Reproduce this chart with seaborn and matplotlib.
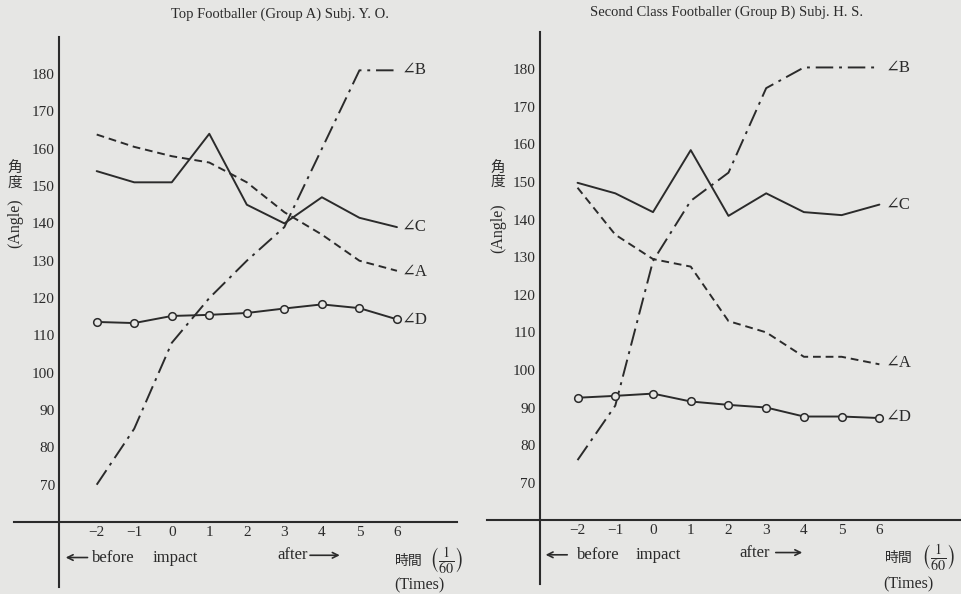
import numpy as np
import pandas as pd
import matplotlib
matplotlib.use("Agg")
import matplotlib.pyplot as plt
import seaborn as sns

# time frames (1/60 s), relative to impact
times = [-2, -1, 0, 1, 2, 3, 4, 5, 6]

# Group A (top footballer, subj. Y. O.)
a_angle_A = [163.8, 160.5, 158, 156.3, 151, 143, 137, 130, 127.3]
a_angle_B = [70, 85, 108, 120, 130, 139, 160, 181, 181]
a_angle_C = [154, 151, 151, 164, 145, 140, 147, 141.5, 139]
a_angle_D = [113.6, 113.3, 115.2, 115.5, 116, 117.2, 118.3, 117.3, 114.3]

# Group B (second class footballer, subj. H. S.)
b_angle_A = [148.5, 136, 129.5, 127.5, 113, 110, 103.5, 103.5, 101.5]
b_angle_B = [76, 90.5, 129, 145, 152.5, 175, 180.5, 180.5, 180.5]
b_angle_C = [149.8, 147, 142, 158.5, 141, 147, 142, 141.2, 144]
b_angle_D = [92.6, 93.1, 93.7, 91.6, 90.7, 90, 87.6, 87.6, 87.2]

y_ticks = [70, 80, 90, 100, 110, 120, 130, 140, 150, 160, 170, 180]
titles = ["Top Footballer (Group A) Subj. Y. O.",
          "Second Class Footballer (Group B) Subj. H. S."]

bg = "#e6e6e4"
ink = "#2b2b2b"

sns.set_style("white")
plt.rcParams["font.family"] = ["Liberation Serif", "DejaVu Serif", "Noto Sans CJK JP"]
plt.rcParams["mathtext.fontset"] = "stix"
plt.rcParams["text.color"] = ink
plt.rcParams["xtick.color"] = ink
plt.rcParams["ytick.color"] = ink

df_a = pd.DataFrame({"t": times, "A": a_angle_A, "B": a_angle_B, "C": a_angle_C, "D": a_angle_D})
df_b = pd.DataFrame({"t": times, "A": b_angle_A, "B": b_angle_B, "C": b_angle_C, "D": b_angle_D})

fig = plt.figure(figsize=(9.62, 5.94), dpi=100, facecolor=bg)

styles = {
    "A": dict(linestyle=(0, (4, 2.5))),
    "B": dict(linestyle=(0, (9, 3, 1.5, 3))),
    "C": dict(linestyle="-"),
    "D": dict(linestyle="-", marker="o", markersize=5.5, markerfacecolor=bg,
              markeredgecolor=ink, markeredgewidth=1.1),
}

panels = [
    dict(df=df_a, rect=[13/962, 4/594, 447/962, 560/594], xlim=(-4.23, 7.68), ylim=(41.8, 191.8),
         xbounds=(-4.2, 7.6), ybounds=(42.5, 190),
         labels={"B": 181, "C": 139, "A": 127, "D": 114}, lab_x=6.14,
         before=(-2.9, -2.17, -2.12), impact=0.09, after=(2.81, 3.61, 4.55), ytxt=50.5,
         jikan=(5.96, 7.32), times_x=6.6, ylab=(-4.17, 152.9, 140)),
    dict(df=df_b, rect=[487/962, 2/594, 475/962, 564/594], xlim=(-4.4, 8.19), ylim=(40.9, 191),
         xbounds=(-4.4, 8.19), ybounds=(43, 190),
         labels={"B": 180.3, "C": 144, "A": 101.9, "D": 87.5}, lab_x=6.17,
         before=(-2.92, -2.2, -2.02), impact=0.13, after=(2.28, 3.18, 4.03), ytxt=50.8,
         jikan=(6.15, 7.56), times_x=6.76, ylab=(-4.11, 151.9, 137.8)),
]

for i, p in enumerate(panels):
    ax = fig.add_axes(p["rect"])
    ax.set_facecolor("none")
    for key in ["A", "B", "C", "D"]:
        sns.lineplot(data=p["df"], x="t", y=key, ax=ax, color=ink, linewidth=1.4, **styles[key])
    ax.set_xlim(*p["xlim"])
    ax.set_ylim(*p["ylim"])
    ax.spines["top"].set_visible(False)
    ax.spines["right"].set_visible(False)
    ax.spines["left"].set_position(("data", -3))
    ax.spines["bottom"].set_position(("data", 60))
    ax.spines["left"].set_bounds(*p["ybounds"])
    ax.spines["bottom"].set_bounds(*p["xbounds"])
    for s in ["left", "bottom"]:
        ax.spines[s].set_color(ink)
        ax.spines[s].set_linewidth(1.5)
    ax.set_xticks(times)
    ax.set_xticklabels([str(t).replace("-", "\u2212") for t in times])
    ax.set_yticks(y_ticks)
    ax.tick_params(axis="both", direction="in", length=6, width=1.4, labelsize=11, pad=3)
    ax.set_xlabel("")
    ax.set_ylabel("")

    for key, yv in p["labels"].items():
        ax.text(p["lab_x"], yv, "\u2220" + key, fontsize=12, va="center", ha="left", color=ink)

    yt = p["ytxt"]
    b_head, b_tail, b_txt = p["before"]
    ax.annotate("", xy=(b_head, yt), xytext=(b_tail, yt),
                arrowprops=dict(arrowstyle="->", color=ink, lw=1.2), annotation_clip=False)
    ax.text(b_txt, yt, "before", fontsize=12, va="center", ha="left")
    ax.text(p["impact"], yt, "impact", fontsize=12, va="center", ha="center")
    a_txt, a_tail, a_head = p["after"]
    ax.text(a_txt, yt + 0.6, "after", fontsize=12, va="center", ha="left")
    ax.annotate("", xy=(a_head, yt + 0.6), xytext=(a_tail, yt + 0.6),
                arrowprops=dict(arrowstyle="->", color=ink, lw=1.2), annotation_clip=False)
    jx, fx = p["jikan"]
    ax.text(jx, yt - 0.8, "時間", fontsize=10, va="center", ha="left",
            family=["Noto Sans CJK JP", "DejaVu Sans"])
    ax.text(fx, yt - 0.8, r"$\left(\frac{1}{60}\right)$", fontsize=14.5, va="center", ha="center")
    ax.text(p["times_x"], 43, "(Times)", fontsize=11.5, va="center", ha="center", clip_on=False)

    lx, y1, y2 = p["ylab"]
    ax.text(lx, y1, "角\n度", fontsize=10.5, va="center", ha="center", linespacing=1.05,
            family=["Noto Sans CJK JP", "DejaVu Sans"])
    ax.text(lx, y2, "(Angle)", fontsize=11.5, va="center", ha="center", rotation=90)

fig.text(280/962, 1 - 14/594, titles[0], fontsize=10.5, ha="center", va="center")
fig.text(727/962, 1 - 12/594, titles[1], fontsize=10.5, ha="center", va="center")

fig.savefig("out.png", dpi=100, facecolor=bg)
